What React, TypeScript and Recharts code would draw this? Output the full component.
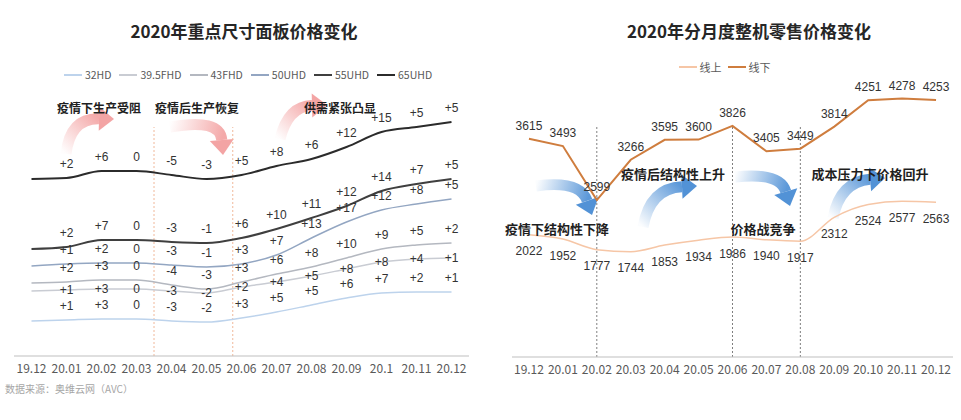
import React from "react";
import {LabelList, Legend, Line, LineChart, ReferenceLine, XAxis, YAxis} from "recharts";

// ---- 左图：重点尺寸面板价格（相对水平，读自原图） ----
const panelMonths = ["19.12", "20.01", "20.02", "20.03", "20.04", "20.05", "20.06", "20.07", "20.08", "20.09", "20.1", "20.11", "20.12"];

const p32 = [35, 36, 37, 37, 35, 34, 38, 44, 51, 58, 63, 64, 64];
const p395 = [65, 66, 67, 67, 65, 63, 69, 74, 80, 87, 94, 97, 98];
const p43 = [73, 74, 76, 76, 71, 67, 74, 82, 89, 98, 107, 111, 113];
const p50 = [90, 92, 93, 93, 91, 89, 92, 101, 118, 134, 146, 152, 157];
const p55 = [107, 109, 116, 116, 114, 113, 118, 127, 138, 150, 165, 172, 177];
const p65 = [177, 178, 185, 185, 181, 177, 181, 190, 197, 209, 224, 229, 234];

// 环比变化标签
const d32 = [null, "+1", "+3", "0", "-3", "-2", "+3", "+5", "+5", "+6", "+7", "+2", "+1"];
const d395 = [null, "+1", "+3", "0", "-3", "-2", "+2", "+4", "+5", "+8", "+8", "+4", "+1"];
const d43 = [null, "+2", "+3", "0", "-4", "-3", "+3", "+6", "+8", "+10", "+9", "+5", "+2"];
const d50 = [null, "+1", "+2", "0", "-3", "-1", "+3", "+7", "+13", "+17", "+12", "+8", "+5"];
const d55 = [null, "+2", "+7", "0", "-3", "-1", "+6", "+10", "+11", "+12", "+14", "+7", "+5"];
const d65 = [null, "+2", "+6", "0", "-5", "-3", "+5", "+8", "+6", "+12", "+15", "+5", "+5"];

// ---- 右图：整机零售均价 ----
const retailMonths = ["19.12", "20.01", "20.02", "20.03", "20.04", "20.05", "20.06", "20.07", "20.08", "20.09", "20.10", "20.11", "20.12"];
const online = [2022, 1952, 1777, 1744, 1853, 1934, 1986, 1940, 1917, 2312, 2524, 2577, 2563];
const offline = [3615, 3493, 2599, 3266, 3595, 3600, 3826, 3405, 3449, 3814, 4251, 4278, 4253];

const panelData = panelMonths.map((m, i) => ({
   i, m,
   p32: p32[i], p395: p395[i], p43: p43[i], p50: p50[i], p55: p55[i], p65: p65[i],
   d32: d32[i], d395: d395[i], d43: d43[i], d50: d50[i], d55: d55[i], d65: d65[i],
}));

const retailData = retailMonths.map((m, i) => ({i, m, online: online[i], offline: offline[i]}));

const idxTicks = panelMonths.map((_, i) => i);

const CJK = '"Noto Sans CJK SC", "Noto Sans", sans-serif';
const NUM = '"Liberation Sans", Arial, sans-serif';

const panelSeries = [
   {key: "p32", lab: "d32", name: "32HD", color: "#bdd3ec", w: 1.5, pos: "top"},
   {key: "p395", lab: "d395", name: "39.5FHD", color: "#c9ccd3", w: 1.5, pos: "center"},
   {key: "p43", lab: "d43", name: "43FHD", color: "#b4b8c0", w: 1.5, pos: "top"},
   {key: "p50", lab: "d50", name: "50UHD", color: "#93a6c2", w: 1.5, pos: "top"},
   {key: "p55", lab: "d55", name: "55UHD", color: "#3f3f3f", w: 2, pos: "top"},
   {key: "p65", lab: "d65", name: "65UHD", color: "#2b2b2b", w: 2, pos: "top"},
];

const legendContent = (gap: number, size: number) => (props: any) => (
   <div style={{display: "flex", justifyContent: "center", gap, fontSize: size, color: "#595959", fontFamily: CJK}}>
      {(props.payload || []).map((e: any) => (
         <span key={e.value} style={{display: "flex", alignItems: "center", gap: 3}}>
            <span style={{display: "inline-block", width: 18, height: 2, background: e.color}}/>
            <span>{e.value}</span>
         </span>
      ))}
   </div>
);

// 装饰箭头
const arrows = [
   {x1: 66, y1: 154, cx: 70, cy: 118, x2: 114, y2: 119, c: "#f29a9a"},
   {x1: 170, y1: 127, cx: 220, cy: 118, x2: 223, y2: 155, c: "#f29a9a"},
   {x1: 280, y1: 139, cx: 288, cy: 106, x2: 327, y2: 105, c: "#f29a9a"},
   {x1: 536, y1: 186, cx: 580, cy: 180, x2: 592, y2: 215, c: "#3f86d2"},
   {x1: 643, y1: 227, cx: 650, cy: 188, x2: 697, y2: 186, c: "#3f86d2"},
   {x1: 735, y1: 177, cx: 780, cy: 172, x2: 790, y2: 206, c: "#3f86d2"},
   {x1: 833, y1: 218, cx: 840, cy: 182, x2: 885, y2: 178, c: "#3f86d2"},
];

const Arrow = ({a, id}: {a: any; id: string}) => {
   const ang = Math.atan2(a.y2 - a.cy, a.x2 - a.cx);
   const len = 15, hw = 12;
   const bx = a.x2 - len * Math.cos(ang), by = a.y2 - len * Math.sin(ang);
   const px = -Math.sin(ang) * hw, py = Math.cos(ang) * hw;
   return (
      <g>
         <defs>
            <linearGradient id={id} gradientUnits="userSpaceOnUse" x1={a.x1} y1={a.y1} x2={bx} y2={by}>
               <stop offset="0" stopColor={a.c} stopOpacity={0.02}/>
               <stop offset="1" stopColor={a.c} stopOpacity={0.85}/>
            </linearGradient>
         </defs>
         <path d={`M${a.x1},${a.y1} Q${a.cx},${a.cy} ${bx},${by}`} stroke={`url(#${id})`} strokeWidth={11} fill="none"/>
         <polygon points={`${a.x2},${a.y2} ${bx + px},${by + py} ${bx - px},${by - py}`} fill={a.c} fillOpacity={0.9}/>
      </g>
   );
};

const notes = [
   {t: "疫情下生产受阻", x: 99, y: 107, s: 12},
   {t: "疫情后生产恢复", x: 197, y: 107, s: 12},
   {t: "供需紧张凸显", x: 340, y: 107, s: 12},
   {t: "疫情下结构性下降", x: 557, y: 228, s: 13},
   {t: "疫情后结构性上升", x: 673, y: 173, s: 13},
   {t: "价格战竞争", x: 763, y: 228, s: 13},
   {t: "成本压力下价格回升", x: 870, y: 173, s: 13},
];

const App: React.FC = () => {
   return (
      <div style={{position: "absolute", left: 0, top: 0, width: 961, height: 420, background: "#fff", overflow: "hidden", fontFamily: CJK}}>
         <svg width={961} height={420} style={{position: "absolute", left: 0, top: 0}}>
            {arrows.map((a, k) => <Arrow key={k} a={a} id={`ag${k}`}/>)}
         </svg>

         <div style={{position: "absolute", left: 0, top: 0}}>
            <LineChart width={480} height={420} data={panelData} margin={{top: 96, right: 11, bottom: 34, left: 14}}>
               <XAxis type="number" dataKey="i" domain={[-0.5, 12.5]} ticks={idxTicks} interval={0}
                      tickFormatter={(v: number) => panelMonths[v]} tickLine={false}
                      axisLine={{stroke: "#bfbfbf"}} tick={{fill: "#595959", fontSize: 12, fontFamily: CJK}}/>
               <YAxis hide domain={[0, 260]}/>
               <Legend verticalAlign="middle" align="center" content={legendContent(8, 10.5)}
                       wrapperStyle={{top: 67, left: 8, width: 480}}/>
               <ReferenceLine segment={[{x: 3.5, y: 0}, {x: 3.5, y: 229}]} stroke="#f0b89a" strokeDasharray="2 2"/>
               <ReferenceLine segment={[{x: 5.75, y: 0}, {x: 5.75, y: 229}]} stroke="#f0b89a" strokeDasharray="2 2"/>
               {panelSeries.map((s) => (
                  <Line key={s.key} type="monotone" dataKey={s.key} name={s.name} stroke={s.color}
                        strokeWidth={s.w} dot={false} isAnimationActive={false}>
                     <LabelList dataKey={s.lab} position={s.pos as any} offset={10}
                                fontSize={12} fill="#333" fontFamily={NUM}/>
                  </Line>
               ))}
            </LineChart>
         </div>

         <div style={{position: "absolute", left: 480, top: 0}}>
            <LineChart width={481} height={420} data={retailData} margin={{top: 55, right: 8, bottom: 33, left: 32}}>
               <XAxis type="number" dataKey="i" domain={[-0.5, 12.5]} ticks={idxTicks} interval={0}
                      tickFormatter={(v: number) => retailMonths[v]} tickLine={false}
                      axisLine={{stroke: "#bfbfbf"}} tick={{fill: "#595959", fontSize: 12, fontFamily: CJK}}/>
               <YAxis hide domain={[0, 5000]}/>
               <Legend verticalAlign="middle" align="center" content={legendContent(6, 11)}
                       wrapperStyle={{top: 59, left: 4, width: 481}}/>
               {[2, 6, 8].map((x) => (
                  <ReferenceLine key={x} segment={[{x, y: 0}, {x, y: 3840}]} stroke="#7f7f7f" strokeDasharray="2 2"/>
               ))}
               <Line type="monotone" dataKey="online" name="线上" stroke="#f6c6a6" strokeWidth={1.5}
                     dot={false} isAnimationActive={false}>
                  <LabelList dataKey="online" position="bottom" offset={12} fontSize={12} fill="#333" fontFamily={NUM}/>
               </Line>
               <Line type="linear" dataKey="offline" name="线下" stroke="#cf7d3e" strokeWidth={2}
                     dot={false} isAnimationActive={false}>
                  <LabelList dataKey="offline" position="top" offset={9} fontSize={12} fill="#333" fontFamily={NUM}/>
               </Line>
            </LineChart>
         </div>

         <div style={{position: "absolute", left: 244, top: 30, transform: "translate(-50%,-50%)", fontSize: 17, fontWeight: 700, color: "#262626", whiteSpace: "nowrap"}}>
            2020年重点尺寸面板价格变化
         </div>
         <div style={{position: "absolute", left: 749, top: 30, transform: "translate(-50%,-50%)", fontSize: 17, fontWeight: 700, color: "#262626", whiteSpace: "nowrap"}}>
            2020年分月度整机零售价格变化
         </div>

         {notes.map((n) => (
            <div key={n.t} style={{position: "absolute", left: n.x, top: n.y, transform: "translate(-50%,-50%)", fontSize: n.s, fontWeight: 700, color: "#1f1f1f", whiteSpace: "nowrap"}}>
               {n.t}
            </div>
         ))}

         <div style={{position: "absolute", left: 5, top: 381, fontSize: 10, color: "#a6a6a6", whiteSpace: "nowrap"}}>
            数据来源：奥维云网（AVC）
         </div>
      </div>
   );
};

export default App;
